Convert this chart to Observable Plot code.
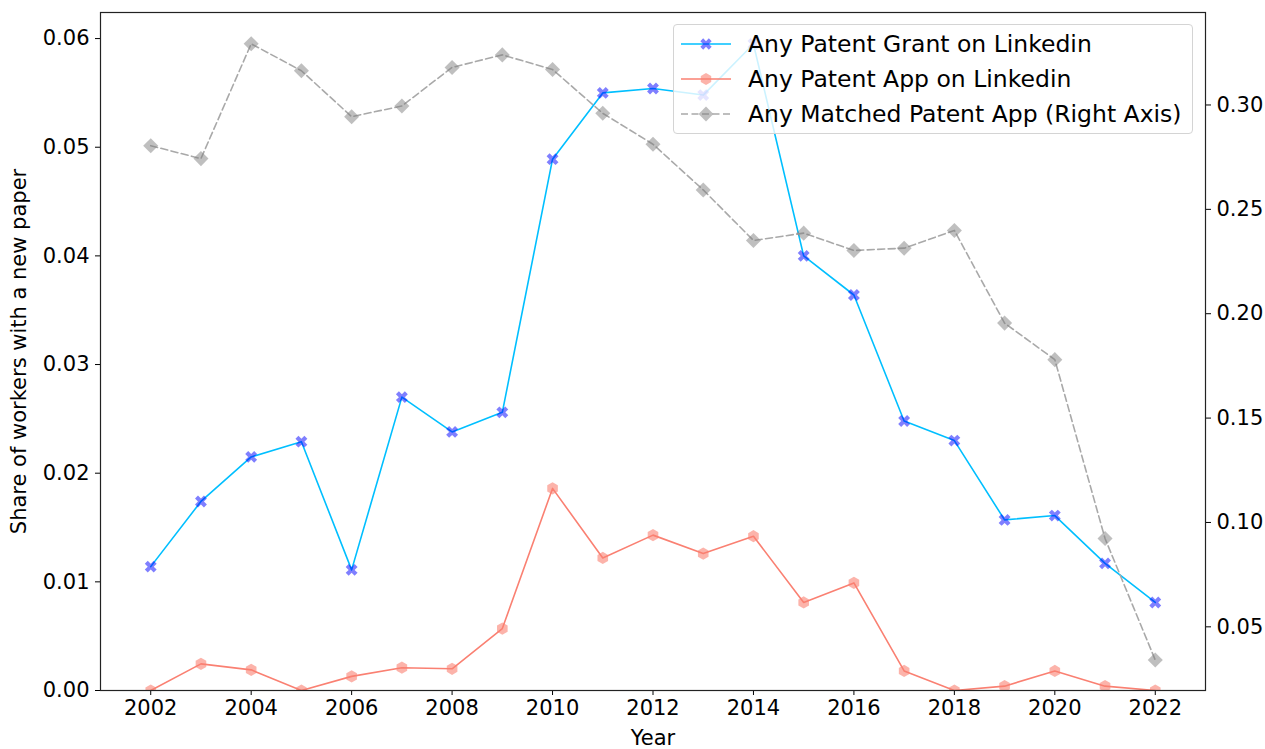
<!DOCTYPE html>
<html>
<head>
<meta charset="utf-8">
<script src="https://cdn.jsdelivr.net/npm/d3@7"></script>
<script src="https://cdn.jsdelivr.net/npm/@observablehq/plot@0.6"></script>
<style>
  html, body { margin: 0; padding: 0; background: #fff; }
  #wrap { position: relative; width: 1265px; height: 749px; font-family: "DejaVu Sans", sans-serif; }
  #legend { position: absolute; left: 673px; top: 24px; width: 520px; height: 110px;
    background: rgba(255,255,255,0.8); border: 1px solid #d4d4d4; border-radius: 4px; box-sizing: border-box; }
  .row { position: absolute; left: 0; height: 30px; display: flex; align-items: center; }
  .row svg { margin-left: 7px; margin-right: 17px; }
  .row span { font-size: 23.5px; color: #000; white-space: nowrap; }
</style>
</head>
<body>
<div id="wrap"></div>
<script>
const years = [2002, 2003, 2004, 2005, 2006, 2007, 2008, 2009, 2010, 2011, 2012, 2013, 2014, 2015, 2016, 2017, 2018, 2019, 2020, 2021, 2022];
const grantLinkedin = [0.0114, 0.0174, 0.0215, 0.0229, 0.0111, 0.0270, 0.0238, 0.0256, 0.0489, 0.0550, 0.0554, 0.0548, 0.0595, 0.0400, 0.0364, 0.0248, 0.0230, 0.0157, 0.0161, 0.0117, 0.0081];
const appLinkedin = [0.0000, 0.00245, 0.0019, 0.0000, 0.0013, 0.0021, 0.0020, 0.0057, 0.0186, 0.0122, 0.0143, 0.0126, 0.0142, 0.0081, 0.0099, 0.0018, 0.0000, 0.0004, 0.0018, 0.0004, 0.0000];
const matchedApp = [0.2805, 0.2743, 0.3293, 0.3164, 0.2944, 0.2995, 0.3180, 0.3240, 0.3170, 0.2960, 0.2812, 0.2593, 0.2351, 0.2386, 0.2303, 0.2314, 0.2399, 0.1955, 0.1780, 0.0923, 0.0341];
const seriesNames = ["Any Patent Grant on Linkedin", "Any Patent App on Linkedin", "Any Matched Patent App (Right Axis)"];
const xLabel = "Year";
const yLabel = "Share of workers with a new paper";
const xTicks = [2002, 2004, 2006, 2008, 2010, 2012, 2014, 2016, 2018, 2020, 2022];
const leftTicks = [0, 0.01, 0.02, 0.03, 0.04, 0.05, 0.06];
const rightTicks = [0.05, 0.10, 0.15, 0.20, 0.25, 0.30];
const leftDomain = [0, 0.0624];
const rightDomain = [0.0195, 0.3443];

// map the right-axis values onto the left scale
const toLeft = d3.scaleLinear().domain(rightDomain).range(leftDomain);

const grant = years.map((y, i) => ({year: y, v: grantLinkedin[i]}));
const app = years.map((y, i) => ({year: y, v: appLinkedin[i]}));
const matched = years.map((y, i) => ({year: y, v: toLeft(matchedApp[i]), raw: matchedApp[i]}));

const fmt = d3.format(".2f");

const chart = Plot.plot({
  width: 1265,
  height: 749,
  marginLeft: 100,
  marginRight: 60,
  marginTop: 12,
  marginBottom: 59,
  style: {fontFamily: "DejaVu Sans, sans-serif", fontSize: "21px", color: "#000", background: "#fff"},
  x: {domain: [2001, 2023]},
  y: {domain: leftDomain},
  marks: [
    Plot.axisX({ticks: xTicks, tickFormat: d => String(d), tickSize: 5, tickPadding: 5, fontSize: 21, label: null}),
    Plot.axisY({ticks: leftTicks, tickFormat: fmt, tickSize: 5, tickPadding: 6, fontSize: 21, label: null}),
    Plot.axisY(rightTicks.map(toLeft), {anchor: "right", tickFormat: d => fmt(toLeft.invert(d)), tickSize: 5, tickPadding: 6, fontSize: 21, label: null}),
    Plot.text([xLabel], {frameAnchor: "bottom", text: d => d, dy: 48, textAnchor: "middle", lineAnchor: "middle", fontSize: 21, fill: "#000"}),
    Plot.text([yLabel], {frameAnchor: "left", text: d => d, dx: -81, rotate: -90, textAnchor: "middle", lineAnchor: "middle", fontSize: 21, fill: "#000"}),
    Plot.line(grant, {x: "year", y: "v", stroke: "#00bfff", strokeWidth: 1.6, clip: "frame"}),
    Plot.dot(grant, {x: "year", y: "v", symbol: "cross", rotate: 45, r: 5.3, fill: "blue", fillOpacity: 0.5, stroke: "none", clip: "frame"}),
    Plot.line(app, {x: "year", y: "v", stroke: "salmon", strokeWidth: 1.6, clip: "frame"}),
    Plot.dot(app, {x: "year", y: "v", symbol: "hexagon", r: 5.3, fill: "salmon", fillOpacity: 0.6, stroke: "none", clip: "frame"}),
    Plot.line(matched, {x: "year", y: "v", stroke: "darkgray", strokeWidth: 1.6, strokeDasharray: "7,3.5", clip: "frame"}),
    Plot.dot(matched, {x: "year", y: "v", symbol: "square", rotate: 45, r: 6, fill: "gray", fillOpacity: 0.5, stroke: "none", clip: "frame"}),
    Plot.frame({stroke: "#222", strokeWidth: 1.2})
  ]
});

const wrap = document.getElementById("wrap");
wrap.appendChild(chart);

// legend
const legend = document.createElement("div");
legend.id = "legend";
const sym = (type, size) => d3.symbol().type(type).size(size)();
const hex = (r) => d3.range(6).map(k => {
  const a = Math.PI / 3 * k;
  return [r * Math.sin(a), -r * Math.cos(a)];
}).map((p, k) => (k ? "L" : "M") + p[0].toFixed(2) + "," + p[1].toFixed(2)).join("") + "Z";
const samples = [
  `<line x1="0" y1="10" x2="50" y2="10" stroke="#00bfff" stroke-width="1.6"/><path d="${sym(d3.symbolCross, 80)}" transform="translate(25,10) rotate(45)" fill="blue" fill-opacity="0.5"/>`,
  `<line x1="0" y1="10" x2="50" y2="10" stroke="salmon" stroke-width="1.6"/><path d="${hex(6)}" transform="translate(25,10)" fill="salmon" fill-opacity="0.6"/>`,
  `<line x1="0" y1="10" x2="50" y2="10" stroke="darkgray" stroke-width="1.6" stroke-dasharray="7,3.5"/><path d="${sym(d3.symbolSquare, 110)}" transform="translate(25,10) rotate(45)" fill="gray" fill-opacity="0.5"/>`
];
seriesNames.forEach((name, i) => {
  const row = document.createElement("div");
  row.className = "row";
  row.style.top = (4 + i * 35) + "px";
  row.innerHTML = `<svg width="50" height="20">${samples[i]}</svg><span>${name}</span>`;
  legend.appendChild(row);
});
wrap.appendChild(legend);
</script>
</body>
</html>
